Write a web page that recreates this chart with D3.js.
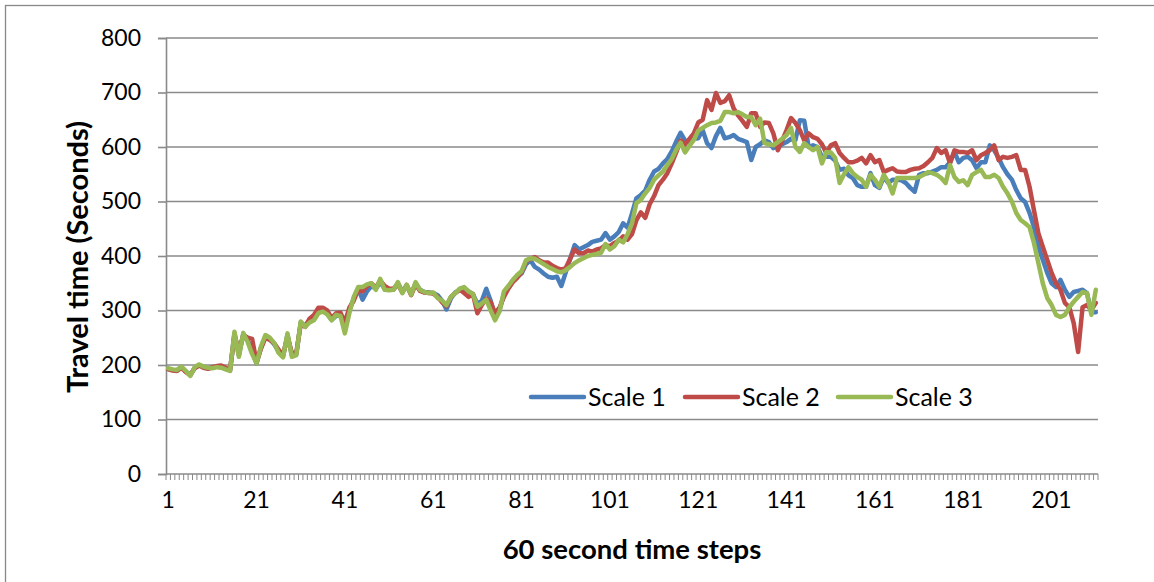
<!DOCTYPE html>
<html>
<head>
<meta charset="utf-8">
<script src="https://cdn.jsdelivr.net/npm/d3@7"></script>
<style>
  html, body { margin: 0; padding: 0; background: #fff; }
  svg { display: block; }
  text { font-family: Lato, "Open Sans", sans-serif; fill: #000; }
</style>
</head>
<body>
<svg id="chart" width="1154" height="582"></svg>
<script>
// ---- data ----
const seriesNames = ["Scale 1", "Scale 2", "Scale 3"];
const seriesColors = ["#4A7EBB", "#BE4B48", "#98B954"];
const yTicks = [0, 100, 200, 300, 400, 500, 600, 700, 800];
const xTickLabels = [1, 21, 41, 61, 81, 101, 121, 141, 161, 181, 201];

const scale1 = [
193,191,190,196,188,181,195,200,196,194,195,197,196,193,190,258,218,257,245,225,
203,232,252,248,238,225,216,255,218,220,278,272,282,288,298,300,295,283,290,292,
268,300,322,340,320,335,345,340,352,340,338,338,350,335,345,330,350,338,334,333,
332,328,318,302,322,333,338,340,335,330,312,318,340,318,290,300,330,343,355,362,
368,385,392,380,375,368,362,360,362,345,370,395,420,412,416,420,426,428,430,442,
430,436,444,460,452,478,506,512,520,540,555,560,570,578,592,610,626,612,608,615,
616,631,607,598,620,635,616,618,622,615,612,609,576,600,605,612,609,598,603,605,
609,615,613,649,648,600,603,600,582,582,582,575,558,560,548,543,530,527,527,552,
530,525,545,534,540,540,539,534,525,518,549,552,552,555,558,563,563,572,591,572,
580,582,576,561,572,572,603,594,580,563,550,540,521,506,499,479,453,417,393,369,
350,343,356,338,325,334,336,338,332,297,297
];
const scale2 = [
192,190,189,195,187,182,194,199,195,193,196,198,199,195,191,255,225,255,250,248,
205,230,250,246,240,228,218,252,222,222,275,270,285,292,305,305,300,286,295,296,
278,305,318,338,335,345,350,342,355,345,340,340,348,333,347,328,348,336,333,332,
331,325,315,308,325,332,338,332,325,330,295,310,322,315,295,305,325,340,352,360,
370,390,395,398,392,388,388,382,378,375,378,395,412,405,405,410,408,412,414,420,
418,424,428,436,430,440,466,480,470,495,510,530,540,552,570,590,612,605,615,625,
645,650,686,668,699,681,684,695,671,658,648,637,662,662,637,645,644,625,594,612,
631,653,644,631,612,625,618,615,605,589,603,607,589,580,572,572,575,580,570,585,
572,576,554,558,561,555,554,554,558,560,561,565,572,580,598,589,594,570,594,591,
591,589,594,576,585,589,594,603,576,582,580,582,585,558,558,527,484,442,417,393,
369,350,338,314,306,277,224,306,310,301,314
];
const scale3 = [
194,192,191,197,189,180,196,201,197,195,194,196,195,192,189,261,215,259,242,220,
203,234,255,250,240,222,214,258,215,218,280,270,278,282,295,298,293,282,292,290,
258,295,325,343,343,348,350,338,358,338,337,338,352,332,347,329,352,338,334,332,
333,323,318,310,325,332,340,343,335,330,307,313,320,300,282,298,335,345,356,365,
372,392,396,395,390,385,380,376,372,370,374,380,387,392,396,400,402,404,406,422,
412,418,430,425,440,460,497,503,515,525,540,548,555,567,578,595,608,590,602,613,
630,635,640,644,645,648,664,664,662,664,660,655,655,640,652,607,605,603,609,615,
622,635,600,591,607,600,594,600,570,591,590,580,534,550,563,552,545,540,527,549,
540,527,549,536,515,543,543,543,543,543,545,549,554,552,549,543,534,567,545,536,
539,530,549,554,558,545,545,549,543,527,515,500,479,466,460,453,424,387,350,323,
310,292,288,292,306,316,325,334,332,292,338
];
const seriesValues = [scale1, scale2, scale3];

// ---- layout ----
const svg = d3.select("#chart");
const plotLeft = 166, plotRight = 1098, plotTop = 38, plotBottom = 474;
const nCats = scale1.length;
const categories = d3.range(1, nCats + 1);

// outer border
svg.append("rect")
  .attr("x", 5.5).attr("y", 5.5).attr("width", 1170).attr("height", 600)
  .attr("fill", "none").attr("stroke", "#888").attr("stroke-width", 1.3);

const x = d3.scaleBand().domain(categories).range([plotLeft, plotRight]).paddingInner(0).paddingOuter(0);
const y = d3.scaleLinear().domain([0, 800]).range([plotBottom, plotTop]);

// gridlines
svg.append("g").selectAll("line").data(yTicks.filter(d => d > 0)).join("line")
  .attr("x1", plotLeft).attr("x2", plotRight)
  .attr("y1", d => y(d)).attr("y2", d => y(d))
  .attr("stroke", "#8a8a8a").attr("stroke-width", 1.6);

// y axis
const yAxis = svg.append("g").attr("transform", `translate(${plotLeft},0)`)
  .call(d3.axisLeft(y).tickValues(yTicks).tickSize(8).tickPadding(17));
yAxis.select(".domain").attr("stroke", "#8a8a8a").attr("stroke-width", 1.6);
yAxis.selectAll(".tick line").attr("stroke", "#8a8a8a").attr("stroke-width", 1.6);
yAxis.selectAll("text").style("font-size", "23px").style("font-family", "Lato, sans-serif").attr("fill", "#000");

// x axis: minor tick at each category boundary
const boundaries = d3.range(0, nCats + 1).map(i => plotLeft + i * x.bandwidth());
svg.append("g").selectAll("line").data(boundaries).join("line")
  .attr("x1", d => d).attr("x2", d => d)
  .attr("y1", plotBottom).attr("y2", plotBottom + 6)
  .attr("stroke", "#8a8a8a").attr("stroke-width", 1);
svg.append("line").attr("x1", plotLeft).attr("x2", plotRight).attr("y1", plotBottom).attr("y2", plotBottom)
  .attr("stroke", "#8a8a8a").attr("stroke-width", 1.6);

svg.append("g").selectAll("text").data(xTickLabels).join("text")
  .attr("x", d => x(d) + x.bandwidth() / 2)
  .attr("y", 508)
  .attr("text-anchor", "middle")
  .style("font-size", "23px")
  .text(d => d);

// lines
const line = d3.line()
  .x((d, i) => x(categories[i]) + x.bandwidth() / 2)
  .y(d => y(d));
seriesValues.forEach((vals, k) => {
  svg.append("path").datum(vals)
    .attr("d", line)
    .attr("fill", "none")
    .attr("stroke", seriesColors[k])
    .attr("stroke-width", 4.5)
    .attr("stroke-linejoin", "round")
    .attr("stroke-linecap", "round");
});

// axis titles
svg.append("text")
  .attr("transform", "translate(88,257) rotate(-90)")
  .attr("text-anchor", "middle")
  .style("font-size", "29px").style("font-weight", "bold")
  .text("Travel time (Seconds)");
svg.append("text")
  .attr("x", 632).attr("y", 559)
  .attr("text-anchor", "middle")
  .style("font-size", "27.5px").style("font-weight", "bold")
  .text("60 second time steps");

// legend
const legendX = [531, 685, 838];
seriesNames.forEach((name, k) => {
  const g = svg.append("g").attr("transform", `translate(${legendX[k]},397)`);
  g.append("line").attr("x1", 0).attr("x2", 53).attr("y1", 0).attr("y2", 0)
    .attr("stroke", seriesColors[k]).attr("stroke-width", 4.5).attr("stroke-linecap", "round");
  g.append("text").attr("x", 57).attr("y", 9).style("font-size", "25px").text(name);
});
</script>
</body>
</html>
